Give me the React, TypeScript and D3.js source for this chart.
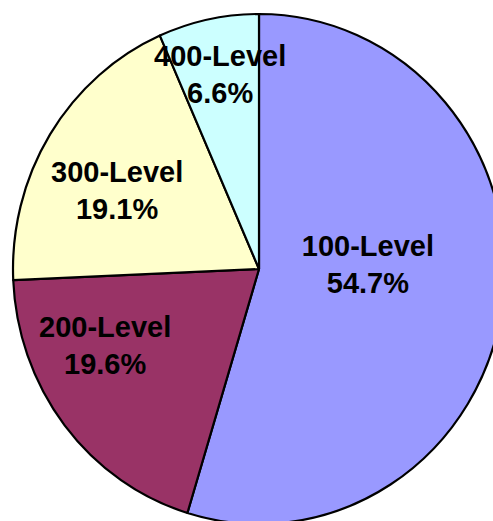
import React from "react";
import * as d3 from "d3";

// Course-level distribution (share of enrolments, %)
const levels = ["100-Level", "200-Level", "300-Level", "400-Level"];
const shares = [54.7, 19.6, 19.1, 6.6];
const sliceColors = ["#9999FF", "#993366", "#FFFFCC", "#CCFFFF"];

// Label placement: radial fraction and angular nudge (degrees) from each slice's mid-angle
const labelRadius = [0.443, 0.693, 0.653, 0.78];
const labelNudge = [-10.6, 12.3, -3.9, 0.2];

const W = 493;
const H = 521;
const cx = 259;
const cy = 269;
const rx = 246;
const ry = 255;

export default function App() {
  const pie = d3
    .pie<number>()
    .sort(null)
    .value((d) => d)
    .startAngle(0)
    .endAngle(2 * Math.PI);
  const arcs = pie(shares);
  const arc = d3.arc<d3.PieArcDatum<number>>().innerRadius(0).outerRadius(ry);

  const capHeight = 20;
  const lineGap = 37;

  return (
    <svg
      width={W}
      height={H}
      style={{ position: "absolute", left: 0, top: 0, background: "#fff" }}
    >
      <g transform={`translate(${cx},${cy}) scale(${rx / ry},1)`}>
        {arcs.map((a, i) => (
          <path
            key={levels[i]}
            d={arc(a) || ""}
            fill={sliceColors[i]}
            stroke="#000"
            strokeWidth={2.2}
            strokeLinejoin="round"
            vectorEffect="non-scaling-stroke"
          />
        ))}
      </g>
      {arcs.map((a, i) => {
        const mid = (a.startAngle + a.endAngle) / 2 + (labelNudge[i] * Math.PI) / 180;
        const f = labelRadius[i];
        const x = cx + rx * f * Math.sin(mid);
        const y = cy - ry * f * Math.cos(mid);
        const top = y - (capHeight + lineGap) / 2;
        return (
          <text
            key={levels[i]}
            textAnchor="middle"
            fontFamily="'Liberation Sans', Arial, sans-serif"
            fontWeight="bold"
            fontSize={29}
            fill="#000"
          >
            <tspan x={x} y={top + capHeight}>
              {levels[i]}
            </tspan>
            <tspan x={x} y={top + capHeight + lineGap}>
              {`${shares[i].toFixed(1)}%`}
            </tspan>
          </text>
        );
      })}
    </svg>
  );
}
